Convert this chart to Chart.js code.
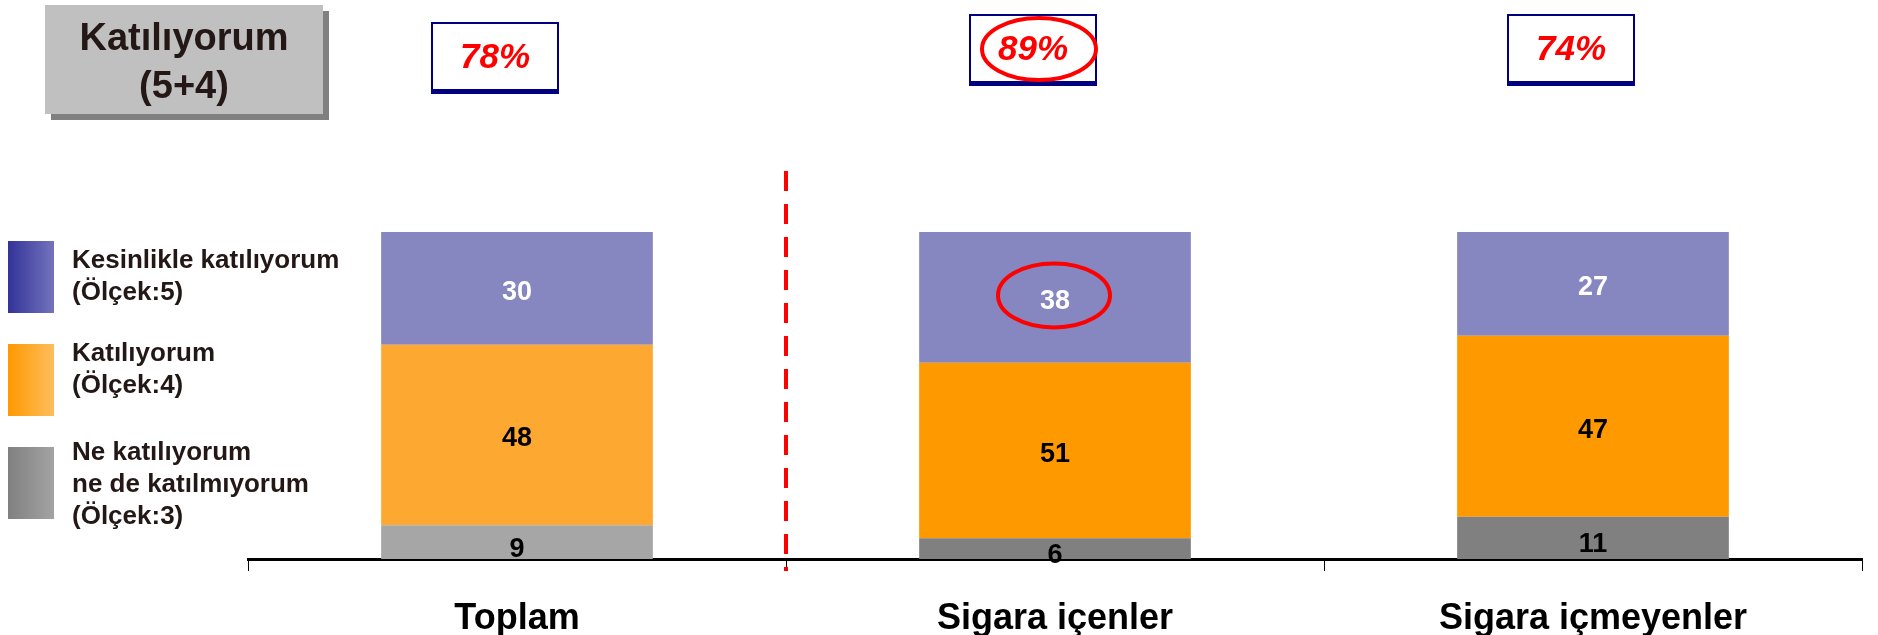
<!DOCTYPE html>
<html>
<head>
<meta charset="utf-8">
<script src="https://cdn.jsdelivr.net/npm/chart.js@4.4.1/dist/chart.umd.min.js"></script>
<style>
  html, body { margin: 0; padding: 0; background: #fff; }
  #wrap { width: 1878px; height: 635px; }
</style>
</head>
<body>
<div id="wrap"><canvas id="chart" width="1878" height="635"></canvas></div>
<script>
// Values
const categories = ['Toplam', 'Sigara içenler', 'Sigara içmeyenler'];
const neutral = [9, 6, 11];          // Ölçek:3
const agree = [48, 51, 47];          // Ölçek:4
const stronglyAgree = [30, 38, 27];  // Ölçek:5
const agreeTotals = ['78%', '89%', '74%'];

const legendItems = [
    { lines: ['Kesinlikle katılıyorum', '(Ölçek:5)'], from: '#333399', to: '#7373BD' },
    { lines: ['Katılıyorum', '(Ölçek:4)'], from: '#FF9900', to: '#FFBD5C' },
    { lines: ['Ne katılıyorum', 'ne de katılmıyorum', '(Ölçek:3)'], from: '#808080', to: '#A3A3A3' }
];

// bars are drawn as 100% stacks
const totals = categories.map((c, i) => neutral[i] + agree[i] + stronglyAgree[i]);
const share = (arr) => arr.map((v, i) => v / totals[i] * 100);

const FONT = '"Liberation Sans", Arial, sans-serif';
const TEXT_DARK = '#231815';

const overlayPlugin = {
    id: 'overlay',
    afterDraw(chart) {
        const ctx = chart.ctx;
        const x = chart.scales.x;
        const area = chart.chartArea;
        ctx.save();

        // Title box with shadow
        ctx.fillStyle = '#808080';
        ctx.fillRect(51, 11, 278, 109);
        ctx.fillStyle = '#C0C0C0';
        ctx.fillRect(45, 5, 278, 109);
        ctx.fillStyle = TEXT_DARK;
        ctx.font = 'bold 38px ' + FONT;
        ctx.textAlign = 'center';
        ctx.textBaseline = 'middle';
        ctx.fillText('Katılıyorum', 184, 40);
        ctx.fillText('(5+4)', 184, 88);

        // Percent boxes on top of each bar
        const boxTops = [22, 14, 14];
        agreeTotals.forEach((label, i) => {
            const cx = x.getPixelForValue(i) - 22;
            const top = boxTops[i];
            const w = 128, h = 72;
            ctx.fillStyle = '#000080';
            ctx.fillRect(cx - w / 2, top, w, h);
            ctx.fillStyle = '#fff';
            ctx.fillRect(cx - w / 2 + 2, top + 2, w - 4, h - 7);
            ctx.fillStyle = '#FF0000';
            ctx.font = 'italic bold 35px ' + FONT;
            ctx.fillText(label, cx, top + h / 2);
        });

        // Red ellipses (89% and 38)
        ctx.strokeStyle = '#FF0000';
        ctx.lineWidth = 4;
        const p1 = x.getPixelForValue(1);
        ctx.beginPath();
        ctx.ellipse(p1 - 16, 49, 57, 31, 0, 0, Math.PI * 2);
        ctx.stroke();
        const seg = chart.getDatasetMeta(2).data[1];
        ctx.beginPath();
        ctx.ellipse(seg.x - 1, (seg.y + seg.base) / 2 - 2, 56, 32, 0, 0, Math.PI * 2);
        ctx.stroke();

        // Red dashed separator between Toplam and the others
        const sepX = (x.getPixelForValue(0) + x.getPixelForValue(1)) / 2;
        ctx.setLineDash([20, 13]);
        ctx.lineWidth = 4;
        ctx.beginPath();
        ctx.moveTo(sepX, 171);
        ctx.lineTo(sepX, area.bottom + 12);
        ctx.stroke();
        ctx.setLineDash([]);

        // Left legend with gradient swatches
        const swatchTops = [241, 344, 447];
        const textTops = [261, 354, 453];
        legendItems.forEach((item, i) => {
            const top = swatchTops[i];
            const g = ctx.createLinearGradient(8, 0, 54, 0);
            g.addColorStop(0, item.from);
            g.addColorStop(1, item.to);
            ctx.fillStyle = g;
            ctx.fillRect(8, top, 46, 72);
            ctx.fillStyle = TEXT_DARK;
            ctx.font = 'bold 26px ' + FONT;
            ctx.textAlign = 'left';
            item.lines.forEach((line, j) => {
                ctx.fillText(line, 72, textTops[i] + j * 32);
            });
        });

        // Value labels inside segments
        ctx.textAlign = 'center';
        ctx.font = 'bold 27px ' + FONT;
        const raw = [neutral, agree, stronglyAgree];
        chart.data.datasets.forEach((ds, di) => {
            chart.getDatasetMeta(di).data.forEach((bar, i) => {
                ctx.fillStyle = di === 2 ? '#FFFFFF' : '#000000';
                const yOff = di === 0 ? 7 : 4;
                ctx.fillText(String(raw[di][i]), bar.x, (bar.y + bar.base) / 2 + yOff);
            });
        });

        // Category labels under the axis
        ctx.fillStyle = '#000000';
        ctx.font = 'bold 36px ' + FONT;
        ctx.textBaseline = 'alphabetic';
        categories.forEach((c, i) => {
            ctx.fillText(c, x.getPixelForValue(i), area.bottom + 70);
        });

        ctx.restore();
    }
};

const chart = new Chart(document.getElementById('chart'), {
    type: 'bar',
    data: {
        labels: categories,
        datasets: [
            {
                label: 'Ne katılıyorum ne de katılmıyorum (Ölçek:3)',
                data: share(neutral),
                backgroundColor: ['#A6A6A6', '#808080', '#808080']
            },
            {
                label: 'Katılıyorum (Ölçek:4)',
                data: share(agree),
                backgroundColor: ['#FDA830', '#FF9900', '#FF9900']
            },
            {
                label: 'Kesinlikle katılıyorum (Ölçek:5)',
                data: share(stronglyAgree),
                backgroundColor: ['#8686C1', '#8686C1', '#8686C1']
            }
        ]
    },
    options: {
        responsive: false,
        animation: false,
        devicePixelRatio: 1,
        layout: {
            padding: { top: 232, left: 248, right: 16, bottom: 64 }
        },
        plugins: {
            legend: { display: false },
            tooltip: { enabled: false }
        },
        datasets: {
            bar: { categoryPercentage: 1.0, barPercentage: 0.505 }
        },
        scales: {
            x: {
                stacked: true,
                border: { display: true, color: '#000000', width: 3 },
                grid: {
                    display: true,
                    drawOnChartArea: false,
                    drawTicks: true,
                    tickLength: 12,
                    color: '#000000',
                    lineWidth: 1
                },
                ticks: { display: false }
            },
            y: {
                stacked: true,
                display: false,
                min: 0,
                max: 100
            }
        }
    },
    plugins: [overlayPlugin]
});
</script>
</body>
</html>
